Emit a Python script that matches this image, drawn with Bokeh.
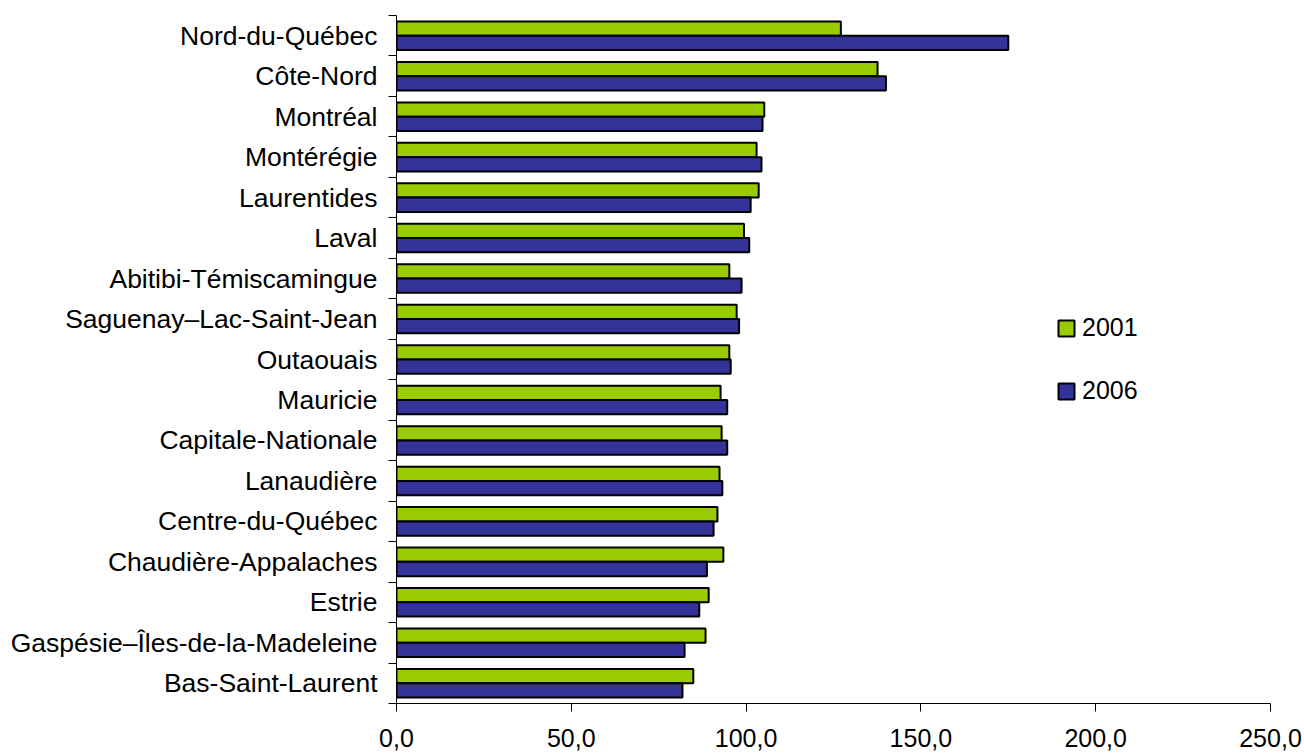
from bokeh.plotting import figure
from bokeh.models import Range1d, FixedTicker, LinearAxis, Legend, LegendItem, ColumnDataSource
from bokeh.embed import file_html
from bokeh.resources import INLINE

# Data (top to bottom as displayed)
regions = [
    "Nord-du-Québec", "Côte-Nord", "Montréal", "Montérégie", "Laurentides", "Laval",
    "Abitibi-Témiscamingue", "Saguenay–Lac-Saint-Jean", "Outaouais", "Mauricie",
    "Capitale-Nationale", "Lanaudière", "Centre-du-Québec", "Chaudière-Appalaches",
    "Estrie", "Gaspésie–Îles-de-la-Madeleine", "Bas-Saint-Laurent",
]
values_2001 = [127.1, 137.6, 105.2, 103.0, 103.6, 99.4, 95.2, 97.3, 95.2, 92.7,
               93.0, 92.4, 91.8, 93.5, 89.3, 88.4, 84.9]
values_2006 = [175.0, 140.0, 104.7, 104.4, 101.3, 100.9, 98.7, 98.0, 95.6, 94.6,
               94.6, 93.2, 90.7, 88.8, 86.6, 82.4, 81.8]
series_names = ["2001", "2006"]
x_ticks = [0, 50, 100, 150, 200, 250]
x_tick_labels = ["0,0", "50,0", "100,0", "150,0", "200,0", "250,0"]

n = len(regions)
centers = [n - i - 0.5 for i in range(n)]
src = ColumnDataSource(dict(
    region=regions,
    y1=[c + 0.1765 for c in centers],
    y2=[c - 0.1765 for c in centers],
    v1=values_2001,
    v2=values_2006,
))

FONT = "Liberation Sans"

p = figure(width=1304, height=753, output_backend="svg", toolbar_location=None,
           x_range=Range1d(0, 250), y_range=Range1d(0, n),
           x_axis_type=None, y_axis_type=None,
           min_border_left=396, min_border_right=34, min_border_top=15, min_border_bottom=50)
p.outline_line_color = None
p.xgrid.visible = False
p.ygrid.visible = False
p.background_fill_color = "white"

r1 = p.hbar(y="y1", right="v1", left=0, height=0.353, source=src,
            fill_color="#99CC00", line_color="black", line_width=2)
r2 = p.hbar(y="y2", right="v2", left=0, height=0.353, source=src,
            fill_color="#333399", line_color="black", line_width=2)

# x axis
xaxis = LinearAxis(ticker=FixedTicker(ticks=x_ticks, minor_ticks=[]))
xaxis.major_label_overrides = {t: l for t, l in zip(x_ticks, x_tick_labels)}
xaxis.major_tick_in = 0
xaxis.major_tick_out = 8
xaxis.major_tick_line_color = "#000000"
xaxis.axis_line_color = "#000000"
xaxis.major_label_text_font = FONT
xaxis.major_label_text_font_size = "25px"
xaxis.major_label_text_color = "black"
xaxis.major_label_text_line_height = 0.5
xaxis.major_label_standoff = 17
p.add_layout(xaxis, "below")

# y axis: labels at category centers, tick marks between categories
yaxis = LinearAxis(ticker=FixedTicker(ticks=centers, minor_ticks=list(range(n + 1))))
yaxis.major_label_overrides = {c: r for c, r in zip(centers, regions)}
yaxis.major_tick_line_color = None
yaxis.major_tick_in = 0
yaxis.major_tick_out = 0
yaxis.minor_tick_in = 0
yaxis.minor_tick_out = 8
yaxis.minor_tick_line_color = "#000000"
yaxis.axis_line_color = "#000000"
yaxis.major_label_text_font = FONT
yaxis.major_label_text_font_size = "26.5px"
yaxis.major_label_text_color = "black"
yaxis.major_label_standoff = 11
p.add_layout(yaxis, "left")

legend = Legend(items=[LegendItem(label=series_names[0], renderers=[r1]),
                       LegendItem(label=series_names[1], renderers=[r2])],
                location=(660, 298))
legend.border_line_color = None
legend.background_fill_alpha = 0
legend.padding = 0
legend.margin = 0
legend.spacing = 34
legend.glyph_width = 20
legend.glyph_height = 20
legend.label_standoff = 6
legend.label_text_font = FONT
legend.label_text_font_size = "25px"
legend.label_text_color = "black"
p.add_layout(legend, "center")

open("out.html", "w").write(file_html(p, INLINE))
